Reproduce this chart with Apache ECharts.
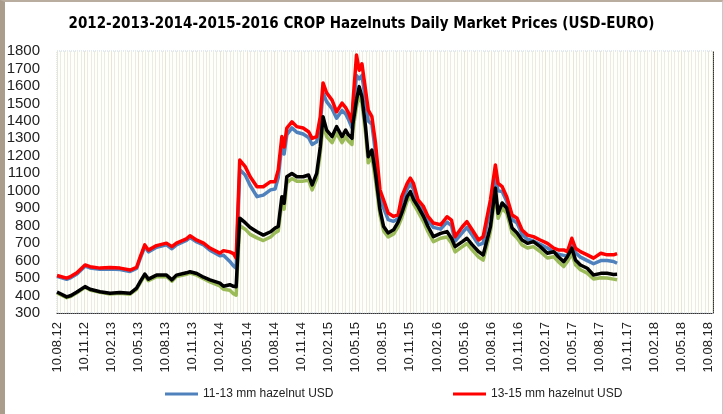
<!DOCTYPE html>
<html>
<head>
<meta charset="utf-8">
<script src="https://cdn.jsdelivr.net/npm/echarts@6/dist/echarts.min.js"></script>
<style>
  html, body { margin: 0; padding: 0; background: #fff; }
  #frame {
    width: 723px; height: 414px; box-sizing: border-box;
    border-left: 5px solid #ab9d8c; border-top: 2px solid #b8ad9f; border-right: 1px solid #c8c8c8;
    position: relative;
  }
  #chart { position: absolute; left: -5px; top: -2px; width: 723px; height: 414px; }
</style>
</head>
<body>
<div id="frame"><div id="chart"></div></div>
<script>
// months elapsed since 10.08.12
const months = [0, 1.07, 1.55, 2.2, 3.1, 3.65, 4.76, 5.86, 6.97, 8.08, 8.8, 9.2, 9.7, 10.1, 11.0, 12.1, 12.7, 13.2, 14.3, 14.7,
  15.45, 16.2, 16.9, 18.0, 18.4, 19.1, 19.5, 19.8, 20.0, 20.2, 20.8, 21.35, 22.1, 22.8, 23.6, 24.1, 24.45, 24.85, 25.1, 25.4,
  25.96, 26.5, 27.2, 27.8, 28.2, 28.7, 29.1, 29.4, 29.8, 30.4, 30.9, 31.5, 31.9, 32.2, 32.6, 32.7, 33.1, 33.4, 33.7, 34.1,
  34.4, 34.8, 35.2, 35.7, 36.1, 36.6, 37.2, 37.7, 38.1, 38.7, 39.05, 39.4, 39.9, 40.5, 41.0, 41.6, 42.4, 43.1, 43.6, 44.0,
  44.8, 45.3, 45.9, 46.6, 47.1, 47.9, 48.45, 48.75, 49.2, 49.7, 50.3, 50.85, 51.4, 52.0, 52.65, 53.4, 54.2, 54.9, 55.4, 56.0,
  56.4, 56.9, 57.3, 57.85, 58.6, 59.3, 60.1, 60.8, 61.5, 61.9]

const usd1113 = [510, 493, 503, 523, 568, 558, 550, 552, 549, 538, 555, 612, 680, 650, 676, 690, 668, 690, 715, 732,
  707, 690, 660, 628, 630, 595, 570, 557, 850, 1120, 1090, 1030, 966, 975, 1005, 1010, 1075, 1265, 1210, 1320,
  1360, 1335, 1325, 1305, 1265, 1280, 1390, 1560, 1510, 1470, 1415, 1460, 1440, 1410, 1360, 1450, 1660, 1640, 1660, 1520,
  1400, 1380, 1220, 960, 900, 835, 825, 840, 935, 1010, 1040, 1010, 920, 880, 830, 790, 780, 820, 800, 712,
  760, 790, 745, 690, 700, 910, 1080, 1000, 995, 940, 835, 815, 750, 722, 712, 693, 672, 648, 636, 630,
  625, 695, 645, 620, 600, 582, 600, 600, 595, 585]

const usd1315 = [515, 500, 510, 530, 575, 565, 557, 560, 557, 546, 562, 622, 690, 660, 686, 700, 680, 700, 724, 742,
  717, 700, 672, 643, 657, 650, 640, 615, 900, 1176, 1138, 1080, 1023, 1023, 1052, 1052, 1119, 1310, 1250, 1359,
  1395, 1367, 1359, 1338, 1300, 1310, 1424, 1617, 1560, 1519, 1452, 1502, 1476, 1448, 1395, 1502, 1777, 1690, 1727, 1577,
  1462, 1424, 1273, 1004, 947, 872, 853, 862, 966, 1042, 1072, 1042, 947, 910, 853, 815, 805, 851, 832, 737,
  794, 823, 775, 718, 737, 947, 1147, 1042, 1023, 966, 861, 842, 775, 746, 737, 718, 699, 671, 661, 661,
  651, 728, 671, 651, 633, 614, 642, 633, 633, 640]

const eur1113 = [415, 388, 396, 416, 447, 432, 418, 409, 413, 408, 436, 472, 515, 485, 508, 509, 482, 509, 522, 528,
  517, 496, 478, 455, 436, 430, 410, 402, 620, 800, 780, 750, 730, 715, 735, 760, 770, 930, 895, 1045,
  1070, 1055, 1055, 1060, 1005, 1070, 1215, 1380, 1310, 1275, 1330, 1275, 1310, 1285, 1265, 1345, 1480, 1555, 1500, 1330,
  1160, 1195, 1060, 860, 770, 735, 752, 795, 845, 940, 968, 925, 880, 823, 765, 708, 728, 735, 700, 650,
  680, 698, 660, 620, 603, 765, 985, 842, 900, 872, 758, 730, 690, 672, 680, 652, 615, 622, 594, 566,
  594, 640, 576, 548, 528, 495, 502, 500, 494, 490]

const eur1315 = [420, 392, 400, 420, 451, 436, 422, 413, 417, 413, 443, 480, 523, 494, 517, 517, 490, 517, 530, 536,
  526, 505, 490, 471, 453, 462, 453, 450, 660, 843, 817, 790, 765, 746, 765, 786, 795, 966, 928, 1080,
  1099, 1080, 1080, 1090, 1033, 1099, 1252, 1424, 1347, 1310, 1367, 1310, 1347, 1320, 1300, 1380, 1520, 1596, 1538, 1367,
  1195, 1233, 1099, 890, 795, 758, 776, 820, 872, 966, 995, 950, 909, 853, 795, 737, 756, 766, 728, 680,
  709, 728, 690, 651, 632, 794, 1015, 871, 930, 901, 786, 758, 718, 699, 709, 680, 642, 651, 622, 594,
  622, 671, 604, 575, 556, 518, 527, 527, 521, 522]

const tickLabels = ['10.08.12', '10.11.12', '10.02.13', '10.05.13', '10.08.13', '10.11.13', '10.02.14', '10.05.14',
  '10.08.14', '10.11.14', '10.02.15', '10.05.15', '10.08.15', '10.11.15', '10.02.16', '10.05.16', '10.08.16',
  '10.11.16', '10.02.17', '10.05.17', '10.08.17', '10.11.17', '10.02.18', '10.05.18', '10.08.18']

const names = ['11-13 mm hazelnut USD', '13-15 mm hazelnut USD', '11-13 mm hazelnut EURO', '13-15 mm hazelnut EURO']

const pairs = vals => months.map((m, i) => [m, vals[i]])

const chart = echarts.init(document.getElementById('chart'))

const lineSeries = (name, vals, color, z) => ({
  name,
  type: 'line',
  data: pairs(vals),
  symbol: 'none',
  z,
  lineStyle: { color, width: 3.5, join: 'round' },
  itemStyle: { color }
})

const legendText = { fontFamily: 'Liberation Sans', fontSize: 12, color: '#222' }

chart.setOption({
  animation: false,
  title: {
    text: '2012-2013-2014-2015-2016 CROP Hazelnuts Daily Market Prices (USD-EURO)',
    left: 'center',
    top: 12,
    textStyle: { fontFamily: 'Liberation Sans Narrow, DejaVu Sans Condensed, sans-serif', fontSize: 15, fontWeight: 'bold', color: '#000' }
  },
  legend: [
    { data: [names[0]], left: 160, top: 383, icon: 'rect', itemWidth: 33, itemHeight: 3, textStyle: legendText },
    { data: [names[1]], left: 448, top: 383, icon: 'rect', itemWidth: 33, itemHeight: 3, textStyle: legendText }
  ],
  grid: {
    left: 57, top: 51, width: 656, height: 262,
    show: true, borderColor: '#c3d3ea', borderWidth: 1, borderType: 'dotted', backgroundColor: '#fefefb'
  },
  xAxis: {
    type: 'value',
    min: 0,
    max: 72.5,
    interval: 3,
    axisLine: { show: true, onZero: false, lineStyle: { color: '#333', type: 'dotted', width: 1 } },
    axisTick: { show: false },
    axisLabel: {
      rotate: 90,
      margin: 9,
      fontFamily: 'Liberation Sans',
      fontSize: 13,
      color: '#222',
      showMaxLabel: true,
      formatter: v => (v % 3 === 0 ? tickLabels[v / 3] : '')
    },
    splitLine: { show: true, lineStyle: { color: '#e8e5d6', width: 1 } },
    minorTick: { show: false, splitNumber: 8 },
    minorSplitLine: { show: true, lineStyle: { color: '#ecebdf', width: 1 } }
  },
  yAxis: [
    {
      type: 'value',
      min: 300,
      max: 1800,
      interval: 100,
      axisLine: { show: false },
      axisTick: { show: false },
      splitLine: { show: false },
      axisLabel: { margin: 17, fontFamily: 'Liberation Sans', fontSize: 15, color: '#222', formatter: v => String(v) }
    },
    {
      type: 'value',
      position: 'right',
      min: 300,
      max: 1800,
      axisLine: { show: true, lineStyle: { color: '#333', type: 'dotted', width: 1 } },
      axisTick: { show: false },
      axisLabel: { show: false },
      splitLine: { show: false }
    }
  ],
  series: [
    lineSeries(names[0], usd1113, '#4f81bd', 2),
    lineSeries(names[2], eur1113, '#9bbb59', 3),
    lineSeries(names[1], usd1315, '#ff0000', 4),
    lineSeries(names[3], eur1315, '#000000', 5)
  ]
})
</script>
</body>
</html>
